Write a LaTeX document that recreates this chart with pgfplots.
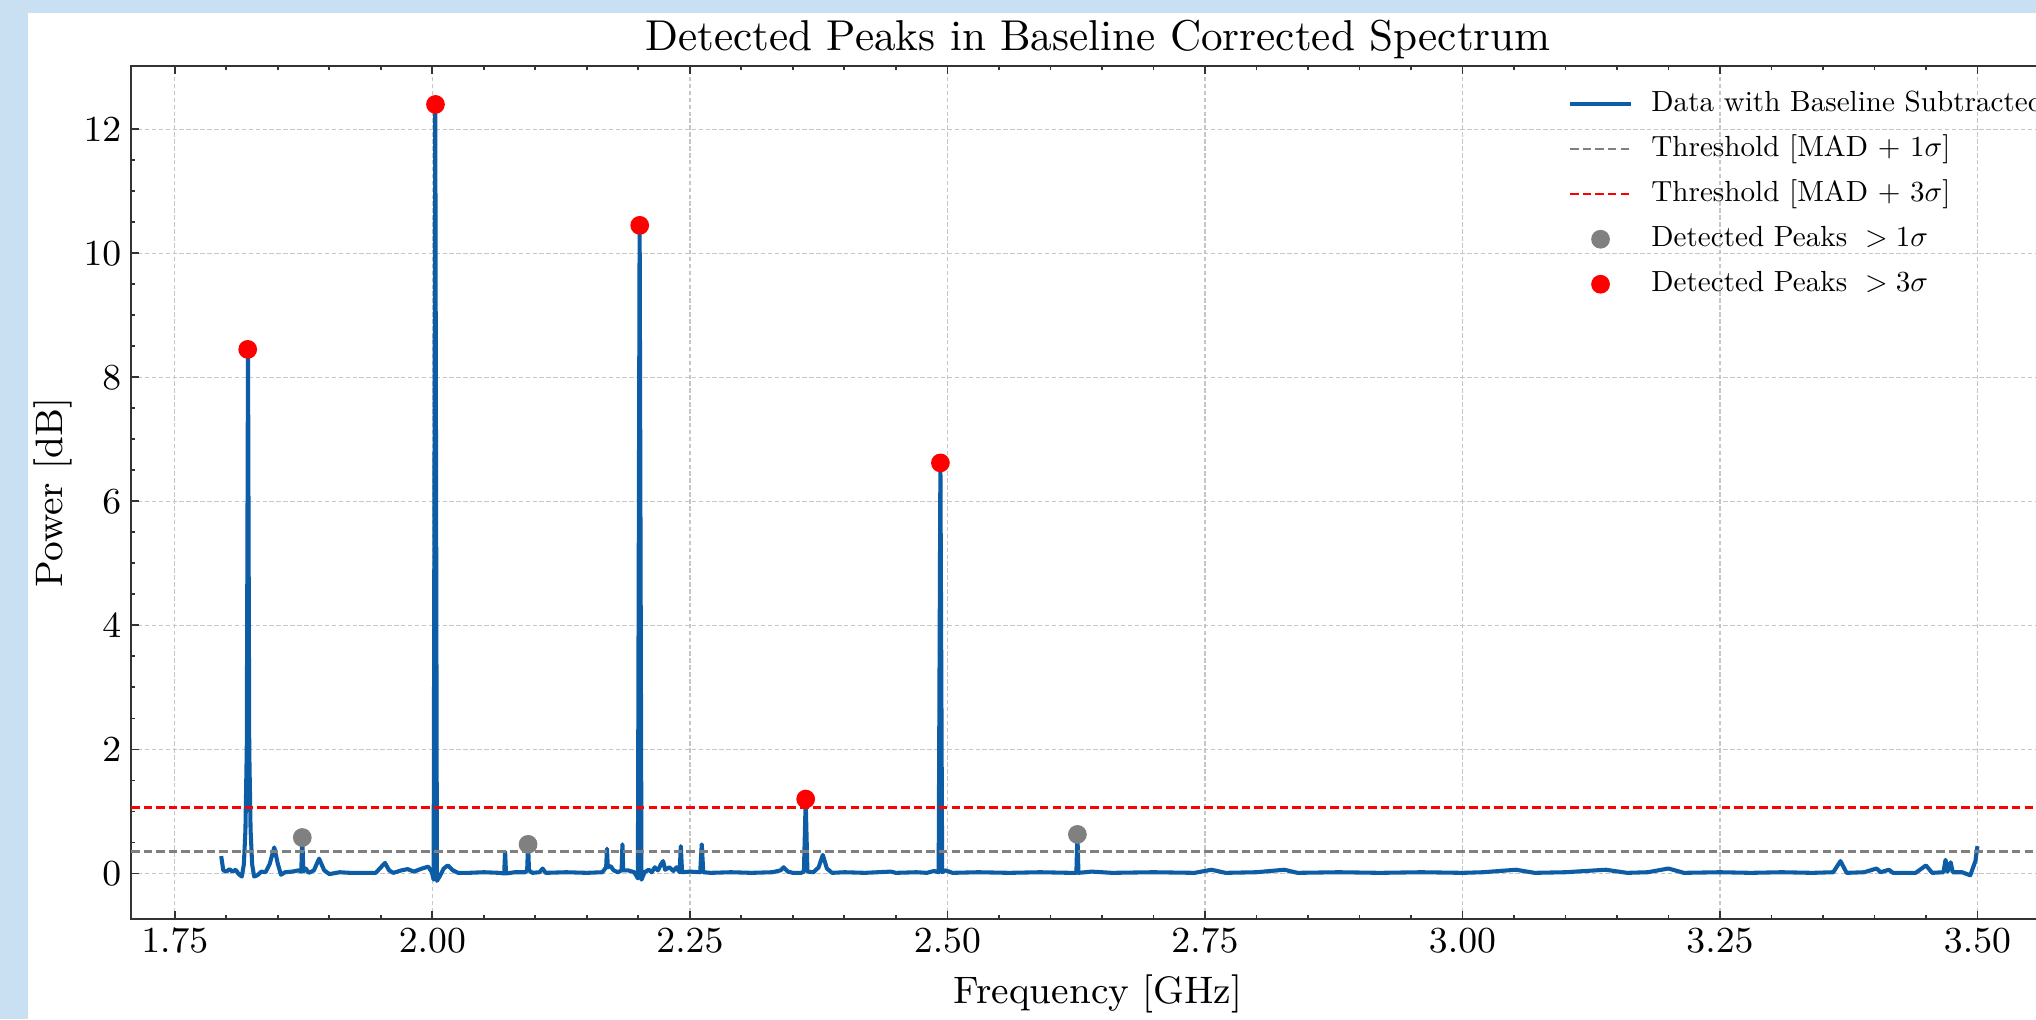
\documentclass[border=0pt]{standalone}
\usepackage{graphicx}
\usepackage{pgfplots}
\pgfplotsset{compat=1.18}
\definecolor{bgblue}{RGB}{201,223,242}
\definecolor{dblue}{HTML}{0C5DA5}
\definecolor{mgray}{RGB}{128,128,128}
\pgfplotsset{
  lineleg/.style={legend image code/.code={\draw[##1] (0pt,0pt) -- (15pt,0pt);}},
  markleg/.style={legend image code/.code={\draw[##1] plot coordinates {(7.5pt,0pt)};}},
}
\newcommand{\legtxt}[1]{\scalebox{0.715}{#1}}
\pgfplotstableread{
f p
1.7950 0.28
1.7970 0.05
1.8000 0.03
1.8030 0.07
1.8060 0.03
1.8090 0.06
1.8120 -0.01
1.8150 -0.05
1.8170 0.15
1.8185 0.7
1.8198 2.0
1.8210 8.45
1.8222 2.0
1.8235 0.7
1.8250 0.15
1.8270 -0.05
1.8300 -0.03
1.8340 0.03
1.8380 0.02
1.8420 0.15
1.8465 0.42
1.8500 0.15
1.8530 -0.02
1.8570 0.02
1.8640 0.03
1.8700 0.05
1.8727 0.03
1.8737 0.58
1.8747 0.03
1.8770 0.08
1.8800 0.01
1.8850 0.05
1.8900 0.24
1.8950 0.05
1.9000 -0.01
1.9100 0.02
1.9200 0.01
1.9300 0.01
1.9450 0.01
1.9500 0.10
1.9540 0.17
1.9580 0.05
1.9620 0.01
1.9700 0.05
1.9760 0.07
1.9820 0.03
1.9900 0.08
1.9960 0.11
1.9995 0.02
2.0012 -0.10
2.0028 12.40
2.0044 -0.12
2.0070 -0.05
2.0110 0.08
2.0150 0.13
2.0200 0.05
2.0250 0.01
2.0350 0.01
2.0500 0.02
2.0650 0.01
2.0697 0.00
2.0706 0.35
2.0715 0.00
2.0800 0.02
2.0900 0.02
2.0920 0.05
2.0929 0.47
2.0938 0.05
2.0970 0.01
2.1040 0.02
2.1070 0.08
2.1100 0.01
2.1300 0.02
2.1500 0.01
2.1650 0.02
2.1687 0.10
2.1695 0.40
2.1703 0.10
2.1730 0.12
2.1760 0.05
2.1800 0.02
2.1837 0.05
2.1845 0.47
2.1853 0.05
2.1900 0.05
2.1960 0.02
2.1995 -0.08
2.2012 10.45
2.2030 -0.10
2.2060 0.02
2.2100 0.06
2.2130 0.02
2.2160 0.10
2.2190 0.05
2.2220 0.15
2.2240 0.20
2.2260 0.06
2.2300 0.10
2.2340 0.04
2.2370 0.10
2.2400 0.02
2.2412 0.44
2.2424 0.02
2.2500 0.03
2.2600 0.02
2.2615 0.47
2.2630 0.02
2.2700 0.01
2.2900 0.02
2.3100 0.01
2.3300 0.02
2.3380 0.05
2.3410 0.10
2.3450 0.03
2.3500 0.01
2.3580 0.01
2.3607 0.03
2.3624 1.18
2.3641 0.03
2.3700 0.02
2.3750 0.10
2.3790 0.30
2.3830 0.08
2.3880 0.01
2.4000 0.02
2.4200 0.01
2.4450 0.03
2.4500 0.01
2.4700 0.02
2.4800 0.01
2.4870 0.04
2.4915 0.02
2.4932 6.62
2.4949 0.02
2.4980 0.05
2.5050 0.01
2.5300 0.02
2.5600 0.01
2.5900 0.02
2.6200 0.01
2.6252 0.01
2.6262 0.63
2.6272 0.01
2.6400 0.03
2.6600 0.01
2.7000 0.02
2.7400 0.01
2.7564 0.06
2.7700 0.01
2.8000 0.02
2.8270 0.06
2.8400 0.01
2.8800 0.02
2.9200 0.01
2.9600 0.02
3.0000 0.01
3.0200 0.02
3.0520 0.06
3.0700 0.01
3.1000 0.02
3.1390 0.06
3.1600 0.01
3.1800 0.02
3.2000 0.08
3.2150 0.01
3.2500 0.02
3.2800 0.01
3.3100 0.02
3.3400 0.01
3.3600 0.02
3.3670 0.20
3.3730 0.01
3.3900 0.02
3.4020 0.08
3.4060 0.02
3.4140 0.06
3.4180 0.01
3.4400 0.01
3.4500 0.13
3.4560 0.01
3.4670 0.02
3.4690 0.22
3.4710 0.03
3.4740 0.18
3.4760 0.02
3.4850 0.02
3.4930 -0.03
3.4980 0.20
3.5000 0.44
}\spectrum
\begin{document}
\begin{tikzpicture}
\useasboundingbox (0,0) rectangle (500pt,250.2455pt);
\clip (0,0) rectangle (500pt,250.2455pt);
\fill[bgblue] (0,0) rectangle (500pt,250.2455pt);
\fill[white] (6.876pt,0) rectangle (500pt,247.05pt);
\begin{axis}[
  at={(32.17pt,24.56pt)}, anchor=south west,
  scale only axis, width=474.95pt, height=209.48pt,
  xmin=1.7074, xmax=3.585, ymin=-0.734, ymax=13.02,
  xtick={1.75,2.00,...,3.50}, ytick={0,2,...,12},
  minor x tick num=4, minor y tick num=3,
  xtick pos=both, ytick pos=both, tick align=inside,
  major tick length=2pt, minor tick length=1pt,
  tick style={black!80, line width=0.45pt},
  axis line style={black!80, line width=0.5pt},
  grid=major,
  major grid style={gray!45, line width=0.3pt, dash pattern=on 1.1pt off 0.6pt},
  xticklabel style={/pgf/number format/.cd, fixed, fixed zerofill, precision=2},
  tick label style={font=\fontsize{9.2}{10}\selectfont, inner sep=2.2pt},
  title={Detected Peaks in Baseline Corrected Spectrum},
  every axis title/.style={at={(0.5,1)}, anchor=base, yshift=3.7pt, font=\fontsize{10.6}{12}\selectfont},
  xlabel={Frequency [GHz]},
  xlabel style={at={(axis description cs:0.5,0)}, anchor=base, yshift=-20.8pt, font=\fontsize{9.4}{11}\selectfont},
  ylabel={Power [dB]},
  ylabel style={at={(axis description cs:-0.0405,0.5)}, anchor=center, font=\fontsize{9.4}{11}\selectfont},
  legend cell align=left,
  legend style={draw=none, fill=none, at={(axis description cs:0.743,1)}, anchor=north west, yshift=-6.0pt,
    inner sep=0pt, outer sep=0pt, row sep=4.25pt, column sep=4.5pt,
    font=\fontsize{10}{12}\selectfont,
    nodes={inner sep=0pt, text height=5.2pt, text depth=1.6pt}},
]
\addlegendimage{dblue, line width=1pt, lineleg}
\addlegendentry{\legtxt{Data with Baseline Subtracted}}
\addlegendimage{mgray, line width=0.55pt, dash pattern=on 2.1pt off 1pt, lineleg}
\addlegendentry{\legtxt{Threshold [MAD + 1$\sigma$]}}
\addlegendimage{red, line width=0.55pt, dash pattern=on 2.1pt off 1pt, lineleg}
\addlegendentry{\legtxt{Threshold [MAD + 3$\sigma$]}}
\addlegendimage{only marks, mark=*, mark size=2.1pt, mgray, markleg}
\addlegendentry{\legtxt{Detected Peaks ${}>1\sigma$}}
\addlegendimage{only marks, mark=*, mark size=2.1pt, red, markleg}
\addlegendentry{\legtxt{Detected Peaks ${}>3\sigma$}}
\addplot[forget plot, only marks, mark=*, mark size=2.1pt, mgray] coordinates {(1.8737,0.58) (2.0929,0.47) (2.6262,0.63)};
\addplot[forget plot, only marks, mark=*, mark size=2.1pt, red] coordinates {(1.8207,8.45) (2.0030,12.40) (2.2013,10.45) (2.3624,1.20) (2.4932,6.62)};
\addplot[forget plot, dblue, line width=1pt, line join=round] table[x=f, y=p] {\spectrum};
\addplot[forget plot, mgray, line width=0.55pt, dash pattern=on 2.1pt off 1pt] coordinates {(1.7074,0.355) (3.585,0.355)};
\addplot[forget plot, red, line width=0.55pt, dash pattern=on 2.1pt off 1pt] coordinates {(1.7074,1.065) (3.585,1.065)};
\end{axis}
\end{tikzpicture}
\end{document}
